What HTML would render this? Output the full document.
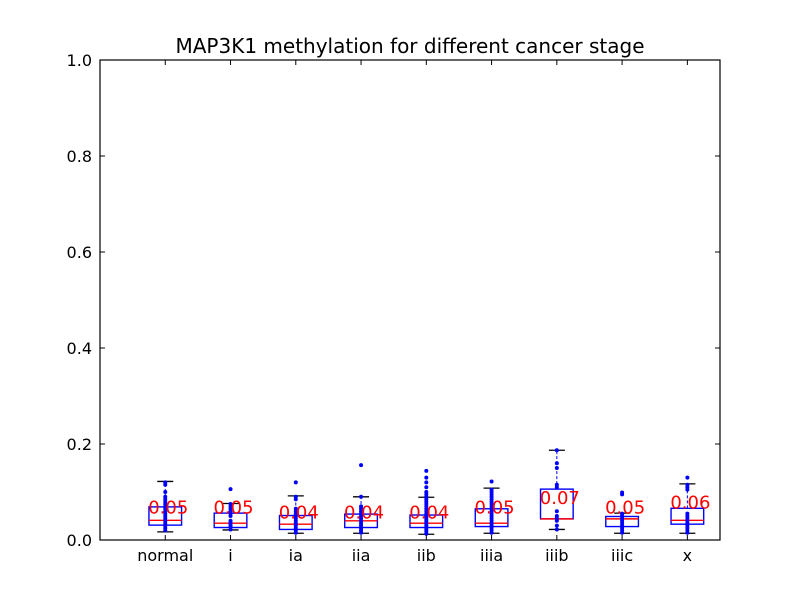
<!DOCTYPE html>
<html><head><meta charset="utf-8"><style>
body{margin:0;background:#fff;}
svg{display:block;font-family:"DejaVu Sans","Liberation Sans",sans-serif;}
</style></head><body>
<svg id="chart" width="800" height="600" viewBox="0 0 800 600">
<rect width="800" height="600" fill="#fff"/>
<text x="410" y="53" font-size="20" text-anchor="middle">MAP3K1 methylation for different cancer stage</text>
<g id="plot"></g>
</svg>
<script>
const categories=["normal","i","ia","iia","iib","iiia","iiib","iiic","x"];
const q1=[0.031,0.026,0.022,0.026,0.026,0.028,0.044,0.028,0.033];
const q3=[0.069,0.056,0.051,0.054,0.052,0.065,0.106,0.049,0.066];
const medians=[0.041,0.035,0.033,0.040,0.035,0.035,0.044,0.044,0.041];
const whiskerLow=[0.017,0.021,0.014,0.014,0.012,0.014,0.022,0.014,0.014];
const whiskerHigh=[0.122,0.076,0.092,0.090,0.089,0.108,0.187,0.056,0.117];
const meanLabels=["0.05","0.05","0.04","0.04","0.04","0.05","0.07","0.05","0.06"];
const meanValues=[0.05,0.05,0.04,0.04,0.04,0.05,0.07,0.05,0.06];
const points=[
[0.02,0.025,0.03,0.035,0.04,0.045,0.05,0.055,0.06,0.065,0.07,0.075,0.08,0.085,0.09,0.1,0.115,0.12],
[0.022,0.028,0.032,0.036,0.04,0.05,0.055,0.06,0.065,0.07,0.075,0.106],
[0.015,0.02,0.025,0.03,0.035,0.04,0.045,0.05,0.055,0.06,0.065,0.085,0.09,0.12],
[0.015,0.02,0.025,0.03,0.035,0.04,0.045,0.05,0.055,0.06,0.065,0.07,0.09,0.156],
[0.013,0.018,0.022,0.026,0.03,0.034,0.038,0.042,0.046,0.05,0.055,0.06,0.065,0.07,0.075,0.08,0.085,0.09,0.095,0.1,0.11,0.12,0.13,0.144],
[0.015,0.02,0.025,0.03,0.035,0.04,0.045,0.05,0.055,0.06,0.065,0.07,0.075,0.08,0.085,0.09,0.095,0.1,0.105,0.122],
[0.022,0.03,0.04,0.045,0.05,0.06,0.11,0.115,0.15,0.16,0.187],
[0.015,0.02,0.025,0.03,0.035,0.04,0.045,0.05,0.055,0.095,0.099],
[0.015,0.02,0.025,0.03,0.035,0.04,0.045,0.05,0.055,0.105,0.11,0.115,0.13]
];
const yTicks=[0,0.2,0.4,0.6,0.8,1.0];
const yTickLabels=["0.0","0.2","0.4","0.6","0.8","1.0"];

const L=100,R=720,T=60,B=540;
const xs=i=>L+(i+1)*(R-L)/9.5;
const ys=v=>B-(B-T)*v;
const NS="http://www.w3.org/2000/svg";
const g=document.getElementById('plot');
function mk(tag,attrs,parent){const e=document.createElementNS(NS,tag);for(const k in attrs)e.setAttribute(k,attrs[k]);(parent||g).appendChild(e);return e;}
const bw=(R-L)/9.5*0.5;
categories.forEach((c,i)=>{
  const x=xs(i);
  const grp=mk('g',{});
  
  
  mk('line',{x1:x,x2:x,y1:ys(q3[i]),y2:ys(whiskerHigh[i]),stroke:'#0000ff','stroke-dasharray':'3,2'},grp);
  mk('line',{x1:x,x2:x,y1:ys(q1[i]),y2:ys(whiskerLow[i]),stroke:'#0000ff','stroke-dasharray':'3,2'},grp);
  mk('line',{x1:x-8,x2:x+8,y1:ys(whiskerHigh[i]),y2:ys(whiskerHigh[i]),stroke:'#000','stroke-width':1.3},grp);
  mk('line',{x1:x-8,x2:x+8,y1:ys(whiskerLow[i]),y2:ys(whiskerLow[i]),stroke:'#000','stroke-width':1.3},grp);
  mk('rect',{x:x-bw/2,y:ys(q3[i]),width:bw,height:ys(q1[i])-ys(q3[i]),fill:'none',stroke:'#0000ff','stroke-width':1.4},grp);
  mk('line',{x1:x-bw/2,x2:x+bw/2,y1:ys(medians[i]),y2:ys(medians[i]),stroke:'#ff0000','stroke-width':1.4},grp);
  points[i].forEach(v=>{
    const p=mk('circle',{cx:x,cy:ys(v),r:2,fill:'#0000ff'},grp);
    
    
  });
  const t=mk('text',{x:x+3,y:ys(meanValues[i])-8,'font-size':18,fill:'#ff0000','text-anchor':'middle','dominant-baseline':'central'},grp);
  t.textContent=meanLabels[i];
  
  
  mk('line',{x1:x,x2:x,y1:B,y2:B-5,stroke:'#000'});
  mk('line',{x1:x,x2:x,y1:T,y2:T+5,stroke:'#000'});
  const xl=mk('text',{x:x,y:B+21,'font-size':16,'text-anchor':'middle'});
  xl.textContent=c;
  
  
});
yTicks.forEach((v,i)=>{
  const y=ys(v);
  mk('line',{x1:L,x2:L+5,y1:y,y2:y,stroke:'#000'});
  mk('line',{x1:R,x2:R-5,y1:y,y2:y,stroke:'#000'});
  const t=mk('text',{x:L-8,y:y+6,'font-size':16,'text-anchor':'end'});
  t.textContent=yTickLabels[i];
  
  
});
const frame=mk('rect',{x:L,y:T,width:R-L,height:B-T,fill:'none',stroke:'#000','stroke-width':1.2});


</script>
</body></html>
